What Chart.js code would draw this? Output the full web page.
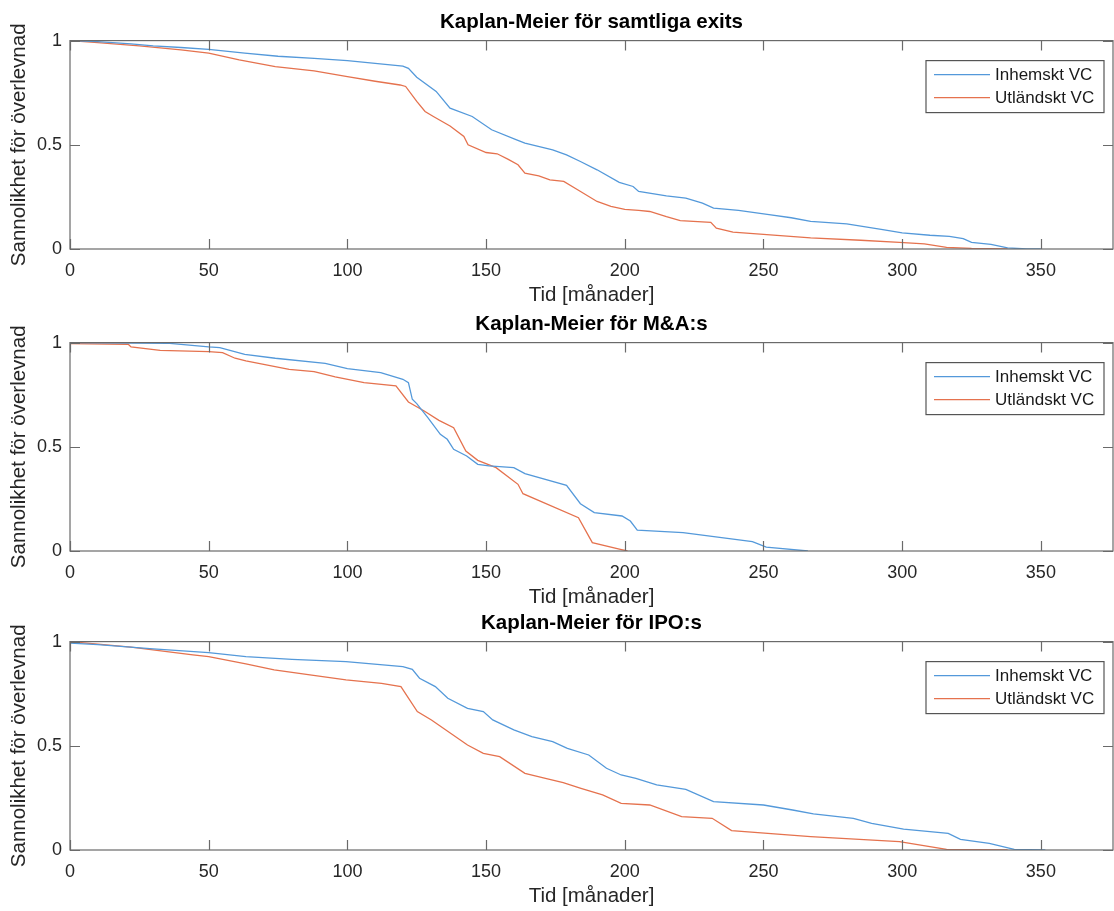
<!DOCTYPE html>
<html lang="sv">
<head>
    <meta charset="UTF-8">
    <title>Kaplan-Meier</title>
    <style>
        body {
            margin: 0;
            background: #ffffff;
            width: 1114px;
            height: 911px;
            overflow: hidden;
            position: relative;
            font-family: "Liberation Sans", Arial, sans-serif;
        }
        canvas {
            position: absolute;
            left: 0;
        }
    </style>
    <script src="https://cdn.jsdelivr.net/npm/chart.js"></script>
</head>
<body>
    <canvas id="chartAll" width="1114" height="312" style="top:0px"></canvas>
    <canvas id="chartMA" width="1114" height="312" style="top:302px"></canvas>
    <canvas id="chartIPO" width="1114" height="312" style="top:601px"></canvas>

    <script>
        // Axlar
        const xTicks = [0, 50, 100, 150, 200, 250, 300, 350];
        const yTicks = [0, 0.5, 1];
        const xMax = 376;
        const seriesNames = ['Inhemskt VC', 'Utländskt VC'];
        const titles = ['Kaplan-Meier för samtliga exits', 'Kaplan-Meier för M&A:s', 'Kaplan-Meier för IPO:s'];

        // Samtliga exits
        const allTimeDom = [0, 10, 22, 30, 40, 50, 63, 75, 88, 100, 120, 122, 125, 132, 137, 145, 152, 161, 164, 174, 179, 184, 190, 198, 203, 205, 215, 222, 228, 232, 241, 252, 260, 267, 280, 293, 300, 310, 317, 322, 325, 332, 338, 345, 350];
        const allSurvDom = [1, 0.995, 0.984, 0.975, 0.967, 0.958, 0.94, 0.925, 0.915, 0.904, 0.878, 0.867, 0.824, 0.756, 0.676, 0.636, 0.572, 0.524, 0.508, 0.476, 0.452, 0.42, 0.38, 0.32, 0.30, 0.276, 0.255, 0.244, 0.22, 0.196, 0.185, 0.165, 0.15, 0.133, 0.121, 0.093, 0.077, 0.066, 0.061, 0.05, 0.032, 0.022, 0.005, 0, 0];
        const allTimeFor = [0, 10, 25, 40, 50, 61, 74, 88, 100, 110, 119, 121, 125, 128, 131, 137, 142, 143.5, 150, 154, 158, 161.5, 164, 169, 173, 178, 183, 190, 195, 200, 205, 209, 215, 220, 231, 233, 239, 250, 267, 285, 299, 308, 316, 325, 338];
        const allSurvFor = [1, 0.99, 0.975, 0.955, 0.94, 0.907, 0.875, 0.855, 0.827, 0.805, 0.787, 0.78, 0.708, 0.66, 0.636, 0.59, 0.54, 0.5, 0.463, 0.457, 0.43, 0.404, 0.364, 0.351, 0.332, 0.324, 0.284, 0.228, 0.205, 0.19, 0.185, 0.18, 0.155, 0.136, 0.128, 0.1, 0.081, 0.07, 0.053, 0.042, 0.032, 0.025, 0.008, 0.003, 0];

        // M&A
        const maTimeDom = [0, 35, 50, 54, 63, 74, 92, 100, 112, 120, 122, 123.4, 125, 129, 133.5, 136, 138.3, 143, 147, 151, 160, 164, 179, 184, 189, 199, 202, 204.5, 221, 246, 251, 266];
        const maSurvDom = [1, 0.997, 0.979, 0.976, 0.944, 0.925, 0.9, 0.875, 0.856, 0.824, 0.808, 0.728, 0.707, 0.64, 0.56, 0.536, 0.488, 0.456, 0.416, 0.408, 0.4, 0.371, 0.315, 0.227, 0.184, 0.168, 0.144, 0.1, 0.088, 0.045, 0.019, 0];
        const maTimeFor = [0, 21, 22, 32.5, 50, 55, 59.5, 63.4, 79, 88, 95.6, 106, 117.5, 122, 127.7, 133, 138.3, 142.7, 147, 153.6, 161.5, 163.3, 183.3, 188.3, 198.4, 201];
        const maSurvFor = [0.995, 0.992, 0.979, 0.963, 0.957, 0.952, 0.925, 0.912, 0.872, 0.861, 0.835, 0.808, 0.792, 0.715, 0.672, 0.627, 0.592, 0.48, 0.435, 0.4, 0.32, 0.275, 0.16, 0.04, 0.008, 0];

        // IPO
        const ipoTimeDom = [0, 10, 30, 50, 63.4, 80, 99.5, 120, 123.4, 126, 131.7, 136.2, 143.3, 149, 152.4, 160, 166.5, 174, 179.3, 187, 193.4, 198.7, 204, 211.5, 222, 232, 250, 260.5, 268, 282.4, 289, 300.5, 316.6, 321, 331.4, 340.4, 351.6];
        const ipoSurvDom = [0.993, 0.985, 0.965, 0.947, 0.928, 0.915, 0.904, 0.88, 0.867, 0.824, 0.784, 0.728, 0.68, 0.664, 0.624, 0.576, 0.544, 0.52, 0.488, 0.456, 0.392, 0.36, 0.344, 0.312, 0.291, 0.232, 0.216, 0.192, 0.173, 0.152, 0.128, 0.1, 0.08, 0.051, 0.032, 0.003, 0];
        const ipoTimeFor = [0, 22, 44.3, 50, 63.4, 73.6, 86.5, 99.5, 112.3, 119.3, 125.2, 130.3, 143.3, 149, 154.9, 164, 171.4, 177.8, 184.2, 192, 198.7, 209, 220.5, 231.5, 238.5, 267, 299, 316, 338];
        const ipoSurvFor = [1, 0.973, 0.936, 0.928, 0.893, 0.864, 0.84, 0.816, 0.8, 0.784, 0.664, 0.624, 0.504, 0.464, 0.448, 0.368, 0.344, 0.323, 0.296, 0.264, 0.224, 0.216, 0.16, 0.152, 0.093, 0.064, 0.04, 0.003, 0];

        const blue = '#5499da';
        const orange = '#e5724e';
        const fontFamily = '"Liberation Sans", Arial, sans-serif';

        function toPoints(t, s) {
            return t.map((v, i) => ({ x: v, y: s[i] }));
        }

        // MATLAB-liknande ram med inåtriktade tickar
        const boxPlugin = {
            id: 'box',
            afterDatasetsDraw(chart) {
                const { ctx, chartArea: a, scales } = chart;
                const len = 10;
                ctx.save();
                ctx.strokeStyle = '#6a6a6a';
                ctx.lineWidth = 1.2;
                ctx.strokeRect(a.left, a.top, a.right - a.left, a.bottom - a.top);
                ctx.beginPath();
                xTicks.forEach(v => {
                    const px = Math.round(scales.x.getPixelForValue(v)) + 0.5;
                    ctx.moveTo(px, a.bottom); ctx.lineTo(px, a.bottom - len);
                    ctx.moveTo(px, a.top); ctx.lineTo(px, a.top + len);
                });
                yTicks.forEach(v => {
                    const py = Math.round(scales.y.getPixelForValue(v)) + 0.5;
                    ctx.moveTo(a.left, py); ctx.lineTo(a.left + len, py);
                    ctx.moveTo(a.right, py); ctx.lineTo(a.right - len, py);
                });
                ctx.stroke();
                ctx.restore();
            }
        };

        // Legend i övre högra hörnet
        const legendBoxPlugin = {
            id: 'legendBox',
            afterDraw(chart) {
                const { ctx, chartArea: a } = chart;
                const w = 178, h = 52;
                const x0 = a.right - 9 - w, y0 = a.top + 20;
                ctx.save();
                ctx.fillStyle = '#ffffff';
                ctx.fillRect(x0, y0, w, h);
                ctx.strokeStyle = '#555555';
                ctx.lineWidth = 1.2;
                ctx.strokeRect(x0, y0, w, h);
                ctx.font = '17px ' + fontFamily;
                ctx.textBaseline = 'middle';
                chart.data.datasets.forEach((ds, i) => {
                    const y = y0 + 14 + i * 23;
                    ctx.strokeStyle = ds.borderColor;
                    ctx.lineWidth = 1.3;
                    ctx.beginPath();
                    ctx.moveTo(x0 + 8, y);
                    ctx.lineTo(x0 + 64, y);
                    ctx.stroke();
                    ctx.fillStyle = '#1a1a1a';
                    ctx.fillText(ds.label, x0 + 69, y + 1);
                });
                ctx.restore();
            }
        };

        function makeChart(id, title, tDom, sDom, tFor, sFor) {
            return new Chart(document.getElementById(id), {
                type: 'line',
                data: {
                    datasets: [{
                        label: seriesNames[0],
                        data: toPoints(tDom, sDom),
                        borderColor: blue,
                        borderWidth: 1.3,
                        pointRadius: 0,
                        tension: 0,
                        fill: false
                    }, {
                        label: seriesNames[1],
                        data: toPoints(tFor, sFor),
                        borderColor: orange,
                        borderWidth: 1.3,
                        pointRadius: 0,
                        tension: 0,
                        fill: false
                    }]
                },
                options: {
                    responsive: false,
                    animation: false,
                    layout: { padding: { left: 0, right: 1, top: 0, bottom: 0 } },
                    plugins: {
                        legend: { display: false },
                        tooltip: { enabled: false },
                        title: {
                            display: true,
                            fullSize: false,
                            text: title,
                            color: '#000000',
                            font: { family: fontFamily, size: 20.5, weight: 'bold' },
                            padding: { top: 10, bottom: 6 }
                        }
                    },
                    scales: {
                        x: {
                            type: 'linear',
                            min: 0,
                            max: xMax,
                            afterBuildTicks: s => { s.ticks = xTicks.map(v => ({ value: v })); },
                            afterFit: s => { s.height = 63; },
                            grid: { display: false, drawTicks: false },
                            border: { display: false },
                            ticks: {
                                color: '#262626',
                                padding: 11,
                                maxRotation: 0,
                                font: { family: fontFamily, size: 18 },
                                callback: v => String(v)
                            },
                            title: {
                                display: true,
                                text: 'Tid [månader]',
                                color: '#262626',
                                font: { family: fontFamily, size: 20.5 },
                                padding: { top: 0, bottom: 4 }
                            }
                        },
                        y: {
                            min: 0,
                            max: 1,
                            afterBuildTicks: s => { s.ticks = yTicks.map(v => ({ value: v })); },
                            afterFit: s => { s.width = 70; },
                            grid: { display: false, drawTicks: false },
                            border: { display: false },
                            ticks: {
                                color: '#262626',
                                padding: 8,
                                font: { family: fontFamily, size: 18 },
                                callback: v => String(v)
                            },
                            title: {
                                display: true,
                                text: 'Sannolikhet för överlevnad',
                                color: '#262626',
                                font: { family: fontFamily, size: 20.5 },
                                padding: { top: 7, bottom: 0 }
                            }
                        }
                    }
                },
                plugins: [boxPlugin, legendBoxPlugin]
            });
        }

        makeChart('chartAll', titles[0], allTimeDom, allSurvDom, allTimeFor, allSurvFor);
        makeChart('chartMA', titles[1], maTimeDom, maSurvDom, maTimeFor, maSurvFor);
        makeChart('chartIPO', titles[2], ipoTimeDom, ipoSurvDom, ipoTimeFor, ipoSurvFor);
    </script>
</body>
</html>
